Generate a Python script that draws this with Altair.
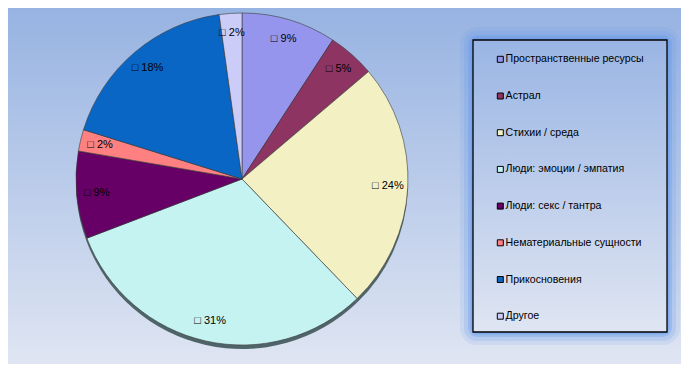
import altair as alt
import pandas as pd

categories = [
    "Пространственные ресурсы",
    "Астрал",
    "Стихии / среда",
    "Люди: эмоции / эмпатия",
    "Люди: секс / тантра",
    "Нематериальные сущности",
    "Прикосновения",
    "Другое",
]
values = [9.2, 4.6, 24.0, 31.4, 8.5, 2.1, 18.0, 2.2]
labels = ["9%", "5%", "24%", "31%", "9%", "2%", "18%", "2%"]
colors = ["#9595ee", "#8e3462", "#f3f1c4", "#c4f3f2", "#660066", "#ff8080", "#0a66c4", "#ccccf8"]

W, H = 673, 356
CX, CY, R = 234, 171, 166

df = pd.DataFrame({
    "cat": categories,
    "value": values,
    "label": ["\u25a1 " + l for l in labels],
    "idx": list(range(len(categories))),
})
one = pd.DataFrame({"a": [0]})

bg = alt.Chart(one).mark_rect(
    color=alt.LinearGradient(gradient="linear", x1=0, y1=0, x2=0, y2=1,
                             stops=[alt.GradientStop(offset=0, color="#97b3e2"),
                                    alt.GradientStop(offset=1, color="#dfe5f2")])
).encode(x=alt.value(0), x2=alt.value(W), y=alt.value(0), y2=alt.value(H))

BX1, BY1, BX2, BY2 = 465, 32, 659, 324
glow = []
for sw, op in [(26, 0.12), (18, 0.18), (10, 0.3), (5, 0.4)]:
    glow.append(alt.Chart(one).mark_rect(
        fillOpacity=0, stroke="#5f97ea", strokeWidth=sw, strokeOpacity=op, cornerRadius=4
    ).encode(x=alt.value(BX1), x2=alt.value(BX2), y=alt.value(BY1), y2=alt.value(BY2)))
box = alt.Chart(one).mark_rect(
    color=alt.LinearGradient(gradient="linear", x1=0, y1=0, x2=0, y2=1,
                             stops=[alt.GradientStop(offset=0, color="#9ab5e4"),
                                    alt.GradientStop(offset=1, color="#dfe5f2")]),
    stroke="#000000", strokeWidth=1.3
).encode(x=alt.value(BX1), x2=alt.value(BX2), y=alt.value(BY1), y2=alt.value(BY2))

base = alt.Chart(df)
theta = alt.Theta("value:Q", stack=True)
order = alt.Order("idx:Q")

shadow = base.mark_arc(radius=R, color="#4f6468", stroke=None).encode(
    theta=theta, order=order, x=alt.value(CX), y=alt.value(CY + 4))

pie = base.mark_arc(radius=R, stroke="#3a3a3a", strokeWidth=0.6).encode(
    theta=theta, order=order, x=alt.value(CX), y=alt.value(CY),
    color=alt.Color("cat:N", scale=alt.Scale(domain=categories, range=colors),
                    legend=alt.Legend(orient="none", legendX=487, legendY=46, title=None,
                                      symbolType="square", symbolSize=36,
                                      symbolStrokeColor="#000000", symbolStrokeWidth=1,
                                      symbolOpacity=1,
                                      labelFont="Liberation Sans", labelFontSize=10.6,
                                      labelColor="#000000", labelOffset=0, labelLimit=400,
                                      rowPadding=25.7, padding=0)),
)

text = base.mark_text(radius=146, font="Liberation Sans", fontSize=11, color="#000000").encode(
    theta=theta, order=order, x=alt.value(CX), y=alt.value(CY), text="label:N")

chart = alt.layer(bg, *glow, box, shadow, pie, text).properties(
    width=W, height=H, padding=0, autosize=alt.AutoSizeParams(type="none")
).configure_view(stroke=None)

chart.save("out.html", embed_options={"renderer": "svg", "actions": False})
